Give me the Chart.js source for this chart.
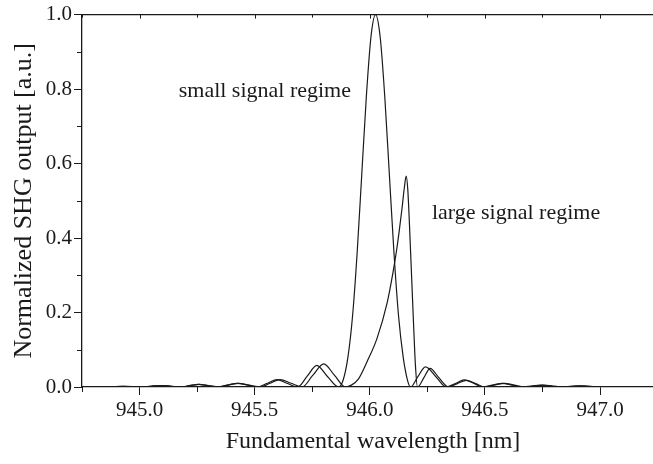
<!DOCTYPE html>
<html>
<head>
<meta charset="utf-8">
<script src="https://cdn.jsdelivr.net/npm/chart.js@4.4.1/dist/chart.umd.min.js"></script>
<style>
  html, body { margin: 0; padding: 0; background: #fff; overflow: hidden; }
  #shgChart { display: block; }
</style>
</head>
<body>
<canvas id="shgChart" width="653" height="464"></canvas>
<script>
// wavelength [nm] / normalized SHG output
const smallX = [944.75, 944.86, 944.925, 945.0, 945.045, 945.09, 945.135, 945.175, 945.215, 945.255, 945.295, 945.34,
    945.38, 945.425, 945.47, 945.51, 945.555, 945.597, 945.64, 945.687, 945.728, 945.77, 945.815, 945.865,
    945.885, 945.905, 945.925, 945.945, 945.965, 945.985, 946.005, 946.025, 946.045, 946.065, 946.085, 946.105, 946.125, 946.145, 946.163, 946.177,
    946.208, 946.242, 946.288, 946.332, 946.372, 946.41, 946.452, 946.49, 946.532, 946.575, 946.618, 946.66,
    946.702, 946.745, 946.788, 946.83, 946.87, 946.91, 946.95, 946.99, 947.25];
const smallY = [0, 0, 0.0015, 0, 0.002, 0.004, 0.002, 0, 0.0035, 0.007, 0.0035, 0,
    0.005, 0.010, 0.005, 0, 0.010, 0.020, 0.010, 0, 0.029, 0.058, 0.029, 0,
    0.02, 0.08, 0.19, 0.36, 0.57, 0.78, 0.94, 1.0, 0.94, 0.78, 0.57, 0.36, 0.19, 0.08, 0.02, 0,
    0.027, 0.054, 0.027, 0, 0.0095, 0.019, 0.0095, 0, 0.005, 0.010, 0.005, 0,
    0.0025, 0.005, 0.0025, 0, 0.0015, 0.003, 0.0015, 0, 0];

const largeX = [944.75, 944.87, 944.93, 945.01, 945.05, 945.095, 945.14, 945.18, 945.22, 945.26, 945.30, 945.345,
    945.385, 945.43, 945.475, 945.525, 945.567, 945.61, 945.658, 945.706, 945.752, 945.80, 945.847, 945.894,
    945.92, 945.951, 945.988, 946.031, 946.075, 946.10, 946.117, 946.13, 946.14, 946.15, 946.158, 946.165, 946.172, 946.18, 946.19, 946.198, 946.207,
    946.235, 946.262, 946.30, 946.342, 946.38, 946.42, 946.46, 946.50, 946.54, 946.585, 946.628, 946.67,
    946.71, 946.752, 946.795, 946.838, 946.878, 946.918, 946.958, 947.0, 947.25];
const largeY = [0, 0, 0.0015, 0, 0.002, 0.004, 0.002, 0, 0.0035, 0.007, 0.0035, 0,
    0.005, 0.010, 0.005, 0, 0.010, 0.020, 0.010, 0, 0.031, 0.062, 0.031, 0,
    0.005, 0.022, 0.068, 0.13, 0.225, 0.305, 0.37, 0.43, 0.48, 0.535, 0.566, 0.53, 0.44, 0.32, 0.17, 0.06, 0,
    0.025, 0.050, 0.025, 0, 0.009, 0.018, 0.009, 0, 0.005, 0.010, 0.005, 0,
    0.0025, 0.005, 0.0025, 0, 0.0015, 0.0033, 0.0015, 0, 0];

const xTicks = [945.0, 945.5, 946.0, 946.5, 947.0];
const xMinor = [944.75, 945.25, 945.75, 946.25, 946.75];
const yTicks = [0, 0.2, 0.4, 0.6, 0.8, 1.0];
const yMinor = [0.1, 0.3, 0.5, 0.7, 0.9];

const labels = [
    { text: 'small signal regime', x: 945.17, y: 0.795 },
    { text: 'large signal regime', x: 946.27, y: 0.467 }
];

const serif = "'Liberation Serif', 'Times New Roman', serif";
const ink = '#1a1a1a';

function toPoints(xs, ys) {
    return xs.map((x, i) => ({ x: x, y: ys[i] }));
}

// minor ticks, top frame, x title and the two regime labels
const extras = {
    id: 'extras',
    afterDraw(chart) {
        const { ctx, chartArea } = chart;
        const xs = chart.scales.x;
        const ys = chart.scales.y;
        ctx.save();
        ctx.strokeStyle = ink;
        ctx.lineWidth = 1.3;
        ctx.beginPath();
        ctx.moveTo(chartArea.left, chartArea.top);
        ctx.lineTo(chartArea.right, chartArea.top);
        ctx.stroke();

        ctx.lineWidth = 1;
        ctx.beginPath();
        xMinor.forEach(v => {
            const px = Math.round(xs.getPixelForValue(v)) + 0.5;
            ctx.moveTo(px, chartArea.bottom);
            ctx.lineTo(px, chartArea.bottom + 5);
            ctx.moveTo(px, chartArea.top);
            ctx.lineTo(px, chartArea.top + 3);
        });
        xTicks.forEach(v => {
            const px = Math.round(xs.getPixelForValue(v)) + 0.5;
            ctx.moveTo(px, chartArea.top);
            ctx.lineTo(px, chartArea.top + 4);
        });
        yMinor.forEach(v => {
            const py = Math.round(ys.getPixelForValue(v)) + 0.5;
            ctx.moveTo(chartArea.left, py);
            ctx.lineTo(chartArea.left - 5, py);
        });
        ctx.stroke();

        ctx.fillStyle = ink;
        ctx.textBaseline = 'middle';
        ctx.textAlign = 'center';
        ctx.font = '24px ' + serif;
        ctx.fillText('Fundamental wavelength [nm]', 373, 442);

        ctx.font = '22px ' + serif;
        ctx.textAlign = 'left';
        labels.forEach(l => {
            ctx.fillText(l.text, xs.getPixelForValue(l.x), ys.getPixelForValue(l.y));
        });
        ctx.restore();
    }
};

const lineStyle = {
    borderColor: ink,
    borderWidth: 1.2,
    pointRadius: 0,
    fill: false,
    cubicInterpolationMode: 'monotone'
};

new Chart(document.getElementById('shgChart'), {
    type: 'line',
    data: {
        datasets: [
            Object.assign({ label: 'small signal regime', data: toPoints(smallX, smallY) }, lineStyle),
            Object.assign({ label: 'large signal regime', data: toPoints(largeX, largeY) }, lineStyle)
        ]
    },
    options: {
        responsive: false,
        animation: false,
        devicePixelRatio: 1,
        layout: { padding: { top: 14, right: 0, left: 0, bottom: 0 } },
        plugins: {
            legend: { display: false },
            tooltip: { enabled: false }
        },
        scales: {
            x: {
                type: 'linear',
                min: 944.75,
                max: 947.23,
                afterBuildTicks: s => { s.ticks = xTicks.map(v => ({ value: v })); },
                afterFit: s => { s.height = 77; },
                ticks: {
                    callback: v => v.toFixed(1),
                    color: ink,
                    font: { family: serif, size: 21 },
                    padding: 3,
                    maxRotation: 0
                },
                grid: { drawOnChartArea: false, tickLength: 8, color: ink, lineWidth: 1 },
                border: { display: true, color: ink, width: 1.3 },
                title: { display: false }
            },
            y: {
                min: 0,
                max: 1.0,
                afterBuildTicks: s => { s.ticks = yTicks.map(v => ({ value: v })); },
                afterFit: s => { s.width = 82; },
                ticks: {
                    callback: v => v.toFixed(1),
                    color: ink,
                    font: { family: serif, size: 21 },
                    padding: 2
                },
                grid: { drawOnChartArea: false, tickLength: 8, color: ink, lineWidth: 1 },
                border: { display: true, color: ink, width: 1.3 },
                title: {
                    display: true,
                    text: 'Normalized SHG output [a.u.]',
                    color: ink,
                    font: { family: serif, size: 26 },
                    padding: { top: 9, bottom: 0 }
                }
            }
        }
    },
    plugins: [extras]
});
</script>
</body>
</html>
